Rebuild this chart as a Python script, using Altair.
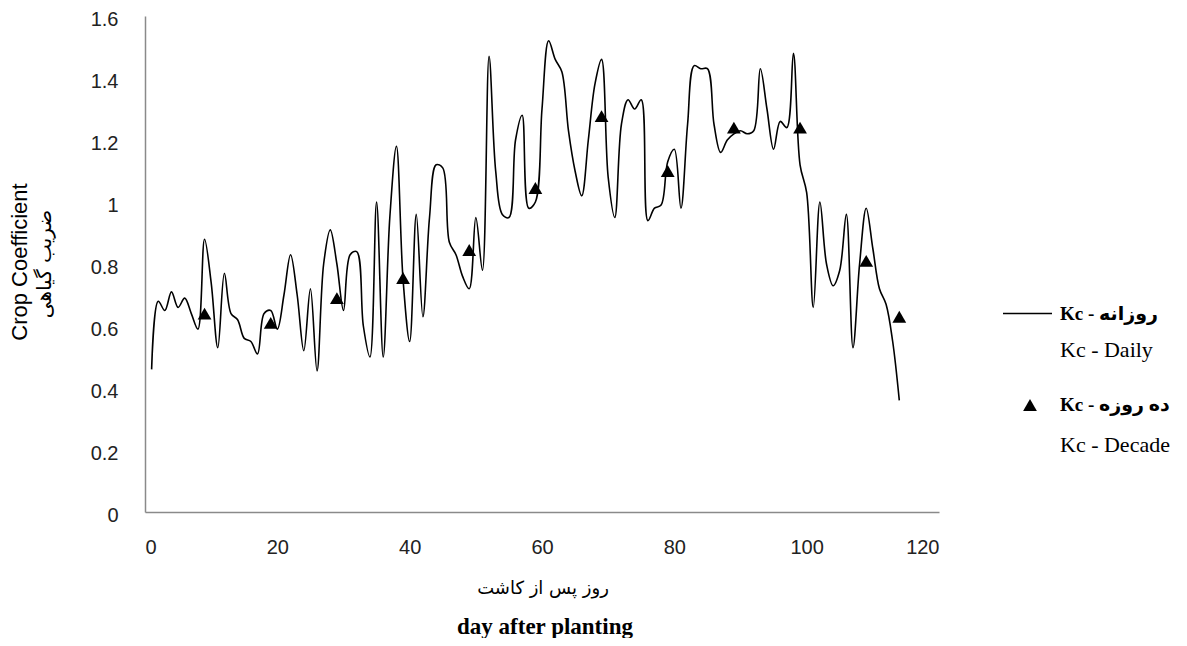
import altair as alt
import pandas as pd

# Daily crop coefficient (Kc), days 1..114
days = list(range(1, 115))
kc_daily = [
    0.46, 0.68, 0.65, 0.71, 0.66, 0.69, 0.64, 0.59, 0.88, 0.74,
    0.53, 0.77, 0.64, 0.62, 0.56, 0.55, 0.51, 0.64, 0.65, 0.59,
    0.70, 0.83, 0.70, 0.52, 0.72, 0.455, 0.80, 0.91, 0.80, 0.65,
    0.83, 0.84, 0.60, 0.50, 1.00, 0.50, 0.95, 1.18, 0.75, 0.55,
    0.96, 0.63, 0.95, 1.12, 1.11, 0.87, 0.83, 0.76, 0.72, 0.95,
    0.78, 1.47, 1.10, 0.96, 0.95, 1.20, 1.28, 0.98, 1.00, 1.30,
    1.52, 1.46, 1.42, 1.23, 1.10, 1.02, 1.20, 1.38, 1.46, 1.08,
    0.95, 1.25, 1.33, 1.30, 1.33, 0.94, 0.98, 0.99, 1.13, 1.17,
    0.98, 1.25, 1.44, 1.43, 1.43, 1.25, 1.16, 1.20, 1.22, 1.23,
    1.22, 1.23, 1.43, 1.30, 1.17, 1.26, 1.24, 1.48, 1.12, 1.03,
    0.66, 1.00, 0.80, 0.73, 0.78, 0.96, 0.53, 0.80, 0.98, 0.85,
    0.72, 0.67, 0.55, 0.36,
]

# Ten-day (decade) Kc
decade_days = [9, 19, 29, 39, 49, 59, 69, 79, 89, 99, 109, 114]
kc_decade = [0.64, 0.61, 0.69, 0.755, 0.845, 1.045, 1.277, 1.10, 1.24, 1.24, 0.81, 0.63]

x_ticks = [0, 20, 40, 60, 80, 100, 120]
y_ticks = [0, 0.2, 0.4, 0.6, 0.8, 1.0, 1.2, 1.4, 1.6]

daily = pd.DataFrame({"day": days, "kc": kc_daily})
decade = pd.DataFrame({"day": decade_days, "kc": kc_decade})
one = pd.DataFrame({"a": [0]})

W, H = 794, 496
SANS = "Liberation Sans"
SERIF = "Liberation Serif, DejaVu Sans"

xs = alt.Scale(domain=[0, 120], nice=False, zero=False)
ys = alt.Scale(domain=[0, 1.6], nice=False)

x_axis = alt.Axis(values=x_ticks, title=None, grid=False, ticks=False, tickSize=0,
                  domainColor="#8a8a8a", domainWidth=1.5, labelFont=SANS,
                  labelFontSize=20, labelColor="#222222", labelPadding=25)
y_axis = alt.Axis(values=y_ticks, title=None, grid=False, ticks=False, tickSize=0,
                  domainColor="#8a8a8a", domainWidth=1.5, labelFont=SANS,
                  labelFontSize=20, labelColor="#222222", labelPadding=27,
                  labelOffset=3, format="~g")

line = alt.Chart(daily).mark_line(color="black", strokeWidth=1.6,
                                  interpolate="catmull-rom").encode(
    x=alt.X("day:Q", scale=xs, axis=x_axis),
    y=alt.Y("kc:Q", scale=ys, axis=y_axis),
)

tri = alt.Chart(decade).mark_point(shape="triangle-up", filled=True, color="black",
                                    opacity=1, size=190).encode(
    x=alt.X("day:Q", scale=xs),
    y=alt.Y("kc:Q", scale=ys),
)


def txt(text, x, y, font, size, weight="normal", angle=0, align="center"):
    return alt.Chart(one).mark_text(text=text, font=font, fontSize=size,
                                     fontWeight=weight, angle=angle, align=align,
                                     baseline="middle", color="black").encode(
        x=alt.value(x), y=alt.value(y))


# axis titles
t_x_fa = txt("روز پس از کاشت", 398, 573, "DejaVu Sans", 18)
t_x_en = txt("day after planting", 400, 611, "Liberation Serif", 23, "bold")
t_y_en = txt("Crop Coefficient", -125, 246, SANS, 22, angle=270)
t_y_fa = txt("ضریب گیاهی", -100, 248, "DejaVu Sans", 20, angle=270)

# legend
leg_line = alt.Chart(one).mark_rule(color="black", strokeWidth=1.6).encode(
    x=alt.value(858), x2=alt.value(907), y=alt.value(297.5))
leg_tri = alt.Chart(one).mark_point(shape="triangle-up", filled=True, color="black",
                                     opacity=1, size=190).encode(
    x=alt.value(885), y=alt.value(389))
l1 = txt("Kc - روزانه", 915, 297.5, SERIF, 19, "bold", align="left")
l2 = txt("Kc - Daily", 915, 334, "Liberation Serif", 22, align="left")
l3 = txt("Kc - ده روزه", 915, 389, SERIF, 19, "bold", align="left")
l4 = txt("Kc - Decade", 915, 429, "Liberation Serif", 22, align="left")

chart = alt.layer(
    line, tri, t_x_fa, t_x_en, t_y_en, t_y_fa, leg_line, leg_tri, l1, l2, l3, l4
).properties(
    width=W, height=H,
    autosize=alt.AutoSizeParams(type="none"),
    padding={"left": 137, "top": 8, "right": 240, "bottom": 126},
    background="white",
).configure_view(stroke=None)

chart.save("out.html", embed_options={"renderer": "svg", "actions": False})
